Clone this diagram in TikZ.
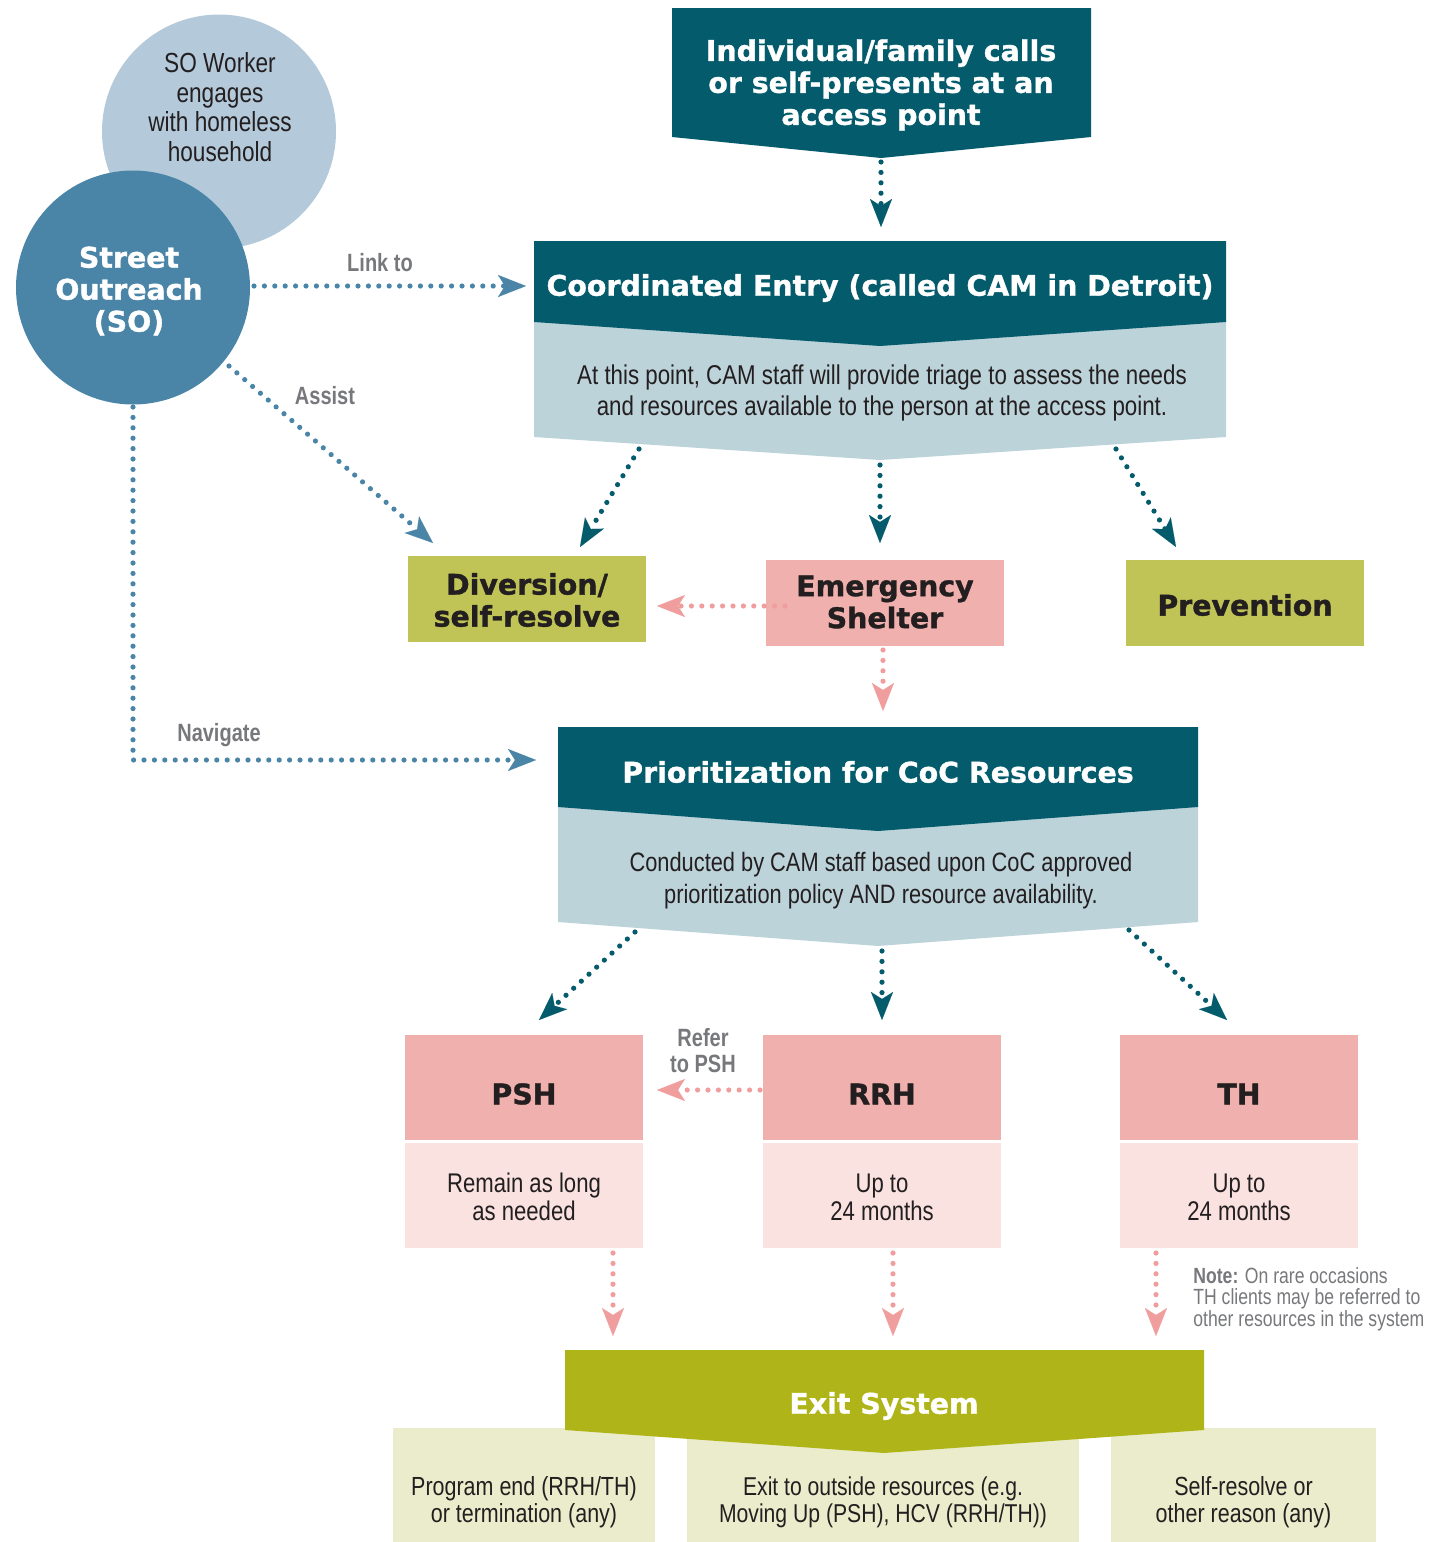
\documentclass[tikz,border=0pt]{standalone}
\usepackage{fontspec}
\setmainfont{Liberation Sans}
\newfontfamily\hfont[FakeBold=1.2]{DejaVu Sans Bold}
\newfontfamily\cfont[FakeStretch=0.82]{Liberation Sans}
\newfontfamily\lfont[FakeStretch=0.8]{Liberation Sans}
\usetikzlibrary{arrows.meta}
\definecolor{tealdark}{HTML}{045B6C}
\definecolor{bluegray}{HTML}{BCD3DA}
\definecolor{sobLue}{HTML}{4A85A8}
\definecolor{solight}{HTML}{B4CADB}
\definecolor{olivebox}{HTML}{C0C355}
\definecolor{pinkbox}{HTML}{F0B0AE}
\definecolor{pinklight}{HTML}{FAE2E1}
\definecolor{exitolive}{HTML}{AFB518}
\definecolor{olivelight}{HTML}{EBECCB}
\definecolor{ink}{HTML}{231F20}
\definecolor{graylbl}{HTML}{77787B}
\definecolor{pinkarrow}{HTML}{F09E9D}
\tikzset{
  head/.style={font=\hfont\fontsize{14.2}{16}\selectfont, align=center, inner sep=0pt},
  body/.style={font=\cfont\fontsize{13.5}{15.5}\selectfont, align=center, text=ink, inner sep=0pt},
  lbl/.style={font=\lfont\bfseries\fontsize{12.5}{13}\selectfont, text=graylbl, align=center, inner sep=0pt},
  boxnode/.style={minimum width=119pt, minimum height=43pt, inner sep=0pt},
  dotline/.style={line width=2.6pt, line cap=round, dash pattern=on 0pt off 5.2pt,
    -{Stealth[length=14pt,width=11pt,inset=3.5pt,line width=0.01pt]}},
}
\begin{document}
\begin{tikzpicture}[x=0.5pt,y=-0.5pt]
\useasboundingbox (0,0) rectangle (1434,1542);

% ---- circles
\node[circle, fill=solight, minimum size=117pt, inner sep=0pt] (worker) at (219,131.5) {};
\node[body, font=\cfont\fontsize{13.8}{14.75}\selectfont] (workertxt) at (220,107) {SO Worker\\engages\\with homeless\\household};
\node[circle, fill=sobLue, minimum size=117pt, inner sep=0pt] (so) at (133,287.5) {};
\node[head, text=white] (sotxt) at (129,291) {Street\\Outreach\\(SO)};

% ---- top chevron
\fill[tealdark] (672,8) -- (1091,8) -- (1091,137) -- (881,158) -- (672,137) -- cycle;
\node[head, text=white] (access) at (881,85) {Individual/family calls\\or self-presents at an\\access point};

% ---- coordinated entry
\fill[bluegray] (534,320) -- (1226,320) -- (1226,437) -- (880,460) -- (534,437) -- cycle;
\fill[tealdark] (534,241) -- (1226,241) -- (1226,322) -- (880,346) -- (534,322) -- cycle;
\node[head, text=white] (ce) at (880,288) {Coordinated Entry (called CAM in Detroit)};
\node[body, font=\cfont\fontsize{13.6}{15.5}\selectfont] (cebody) at (882,393) {At this point, CAM staff will provide triage to assess the needs\\and resources available to the person at the access point.};

% ---- level 2 boxes
\node[boxnode, fill=olivebox] (div) at (527,599) {};
\node[head, text=ink] (divt) at (527,600) {Diversion/\\self-resolve};
\node[boxnode, fill=pinkbox] (es) at (885,603) {};
\node[head, text=ink] (est) at (885,602) {Emergency\\Shelter};
\node[boxnode, fill=olivebox] (prev) at (1245,603) {};
\node[head, text=ink] (prevt) at (1245,605) {Prevention};

% ---- prioritization
\fill[bluegray] (558,805) -- (1198,805) -- (1198,922) -- (878,946) -- (558,922) -- cycle;
\fill[tealdark] (558,727) -- (1198,727) -- (1198,807) -- (878,831) -- (558,807) -- cycle;
\node[head, text=white] (prio) at (878,772) {Prioritization for CoC Resources};
\node[body, font=\cfont\fontsize{13.3}{16}\selectfont] (priobody) at (881,881) {Conducted by CAM staff based upon CoC approved\\prioritization policy AND resource availability.};

% ---- housing boxes
\foreach \nm/\cx/\ttl/\txt in {psh/524/PSH/{Remain as long\\as needed}, rrh/882/RRH/{Up to\\24 months}, th/1239/TH/{Up to\\24 months}}{
  \node[minimum width=119pt, minimum height=52.5pt, inner sep=0pt, fill=pinkbox] (\nm) at (\cx,1087.5) {};
  \node[head, text=ink] (\nm t) at (\cx,1094) {\ttl};
  \node[minimum width=119pt, minimum height=52.5pt, inner sep=0pt, fill=pinklight] (\nm b) at (\cx,1195.5) {};
  \node[body, font=\cfont\fontsize{13.5}{14}\selectfont] (\nm bt) at (\cx,1197) {\txt};
}

% ---- note
\node[anchor=west, align=left, inner sep=0pt, text=graylbl, font=\lfont\fontsize{11}{10.75}\selectfont] (note) at (1193,1299)
  {{\bfseries Note:} On rare occasions\\TH clients may be referred to\\other resources in the system};

% ---- exit
\node[minimum width=131pt, minimum height=57pt, inner sep=0pt, fill=olivelight] (ex1) at (524,1485) {};
\node[minimum width=196pt, minimum height=57pt, inner sep=0pt, fill=olivelight] (ex2) at (883,1485) {};
\node[minimum width=132.5pt, minimum height=57pt, inner sep=0pt, fill=olivelight] (ex3) at (1243.5,1485) {};
\node[body, font=\cfont\fontsize{13.1}{13.5}\selectfont] (ex1t) at (524,1502) {Program end (RRH/TH)\\or termination (any)};
\node[body, font=\cfont\fontsize{12.9}{13.5}\selectfont] (ex2t) at (883,1502) {Exit to outside resources (e.g.\\Moving Up (PSH), HCV (RRH/TH))};
\node[body, font=\cfont\fontsize{13.1}{13.5}\selectfont] (ex3t) at (1243.5,1502) {Self-resolve or\\other reason (any)};
\fill[exitolive] (565,1350) -- (1204,1350) -- (1204,1430) -- (884,1453) -- (565,1430) -- cycle;
\node[head, text=white] (exit) at (884,1406) {Exit System};

% ---- connector end points
\coordinate (a1s) at (881,162);  \coordinate (a1e) at (881,227);
\coordinate (c1s) at (639,449);  \coordinate (c1e) at (580,547);
\coordinate (c2s) at (880,465);  \coordinate (c2e) at (880,543);
\coordinate (c3s) at (1116,449); \coordinate (c3e) at (1176,547);
\coordinate (p1s) at (635,932);  \coordinate (p1e) at (539,1020);
\coordinate (p2s) at (882,951);  \coordinate (p2e) at (882,1020);
\coordinate (p3s) at (1129,930); \coordinate (p3e) at (1227,1020);
\coordinate (lks) at (254,286);  \coordinate (lke) at (526,286);
\coordinate (ass) at (229,366);  \coordinate (ase) at (433,543);
\coordinate (nvs) at (133,407);  \coordinate (nvc) at (133,760); \coordinate (nve) at (536,760);
\coordinate (eds) at (785,606);  \coordinate (ede) at (657,606);
\coordinate (eps) at (883,650);  \coordinate (epe) at (883,711);
\coordinate (rps) at (760,1090); \coordinate (rpe) at (657,1090);
\coordinate (d1s) at (613,1253); \coordinate (d1e) at (613,1336);
\coordinate (d2s) at (893,1253); \coordinate (d2e) at (893,1336);
\coordinate (d3s) at (1156,1253);\coordinate (d3e) at (1156,1336);

% teal connectors
\foreach \s/\e in {a1s/a1e, c1s/c1e, c2s/c2e, c3s/c3e, p1s/p1e, p2s/p2e, p3s/p3e}
  \draw[dotline, tealdark] (\s) -- (\e);
% blue connectors
\draw[dotline, sobLue] (lks) -- (lke);
\draw[dotline, sobLue] (ass) -- (ase);
\draw[dotline, sobLue] (nvs) -- (nvc) -- (nve);
% pink connectors
\foreach \s/\e in {eds/ede, eps/epe, rps/rpe, d1s/d1e, d2s/d2e, d3s/d3e}
  \draw[dotline, pinkarrow] (\s) -- (\e);

% labels
\node[lbl] (lbllink) at (380,263) {Link to};
\node[lbl] (lblassist) at (325,396) {Assist};
\node[lbl] (lblnav) at (219,735) {Navigate};
\node[lbl] (lblref) at (703,1051) {Refer\\to PSH};
\end{tikzpicture}
\end{document}
